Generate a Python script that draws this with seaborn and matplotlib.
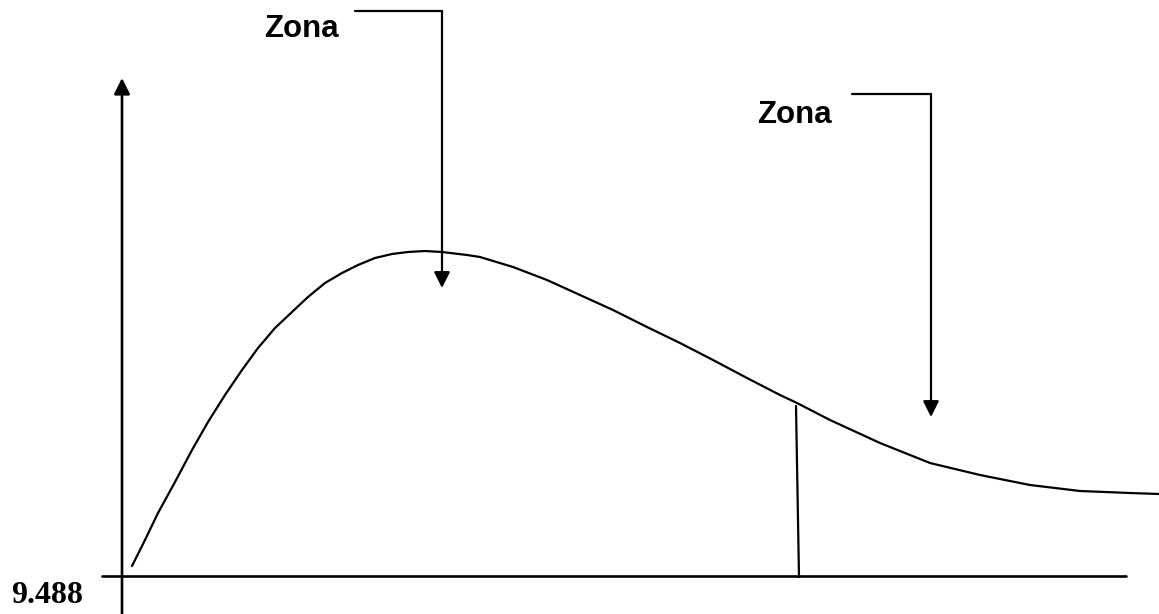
"""
Chi-square sketch: critical value 9.488 with acceptance / rejection zones.
Drawn in a coordinate system where the horizontal axis sits at y=0
and the vertical axis at x=0 (units ~ pixels of the 1159x614 figure).
"""

import matplotlib
matplotlib.use("Agg")
import matplotlib.pyplot as plt
import seaborn as sns
import pandas as pd

# ─── Data ─────────────────────────────────────────────────────

curve_x = [10, 23, 36, 53, 70, 86, 103, 120, 136, 153, 170, 186, 203, 220,
           236, 253, 270, 286, 303, 320, 345, 358, 391, 425, 458, 491, 525,
           558, 591, 625, 658, 675, 708, 758, 808, 858, 908, 958, 1008, 1037]
curve_y = [10, 36, 63, 94, 126, 154, 181, 206, 228, 248, 264, 279, 293, 303,
           311, 318, 322, 324, 325, 324, 321, 319, 309, 296, 281, 266, 249,
           233, 216, 198, 181, 173, 156, 133, 113, 101, 91, 85, 83, 82]

critical_label = "9.488"
critical_x = [674, 677]          # slightly slanted hand-drawn cut line
critical_y = [170, -1]

zone_labels = ["Zona", "Zona"]
zone_text_xy = [(142, 539), (635, 453)]
zone_leader_x = [(233, 320), (730, 809)]
zone_leader_y = [565, 482]
zone_arrow_tip = [288, 159]

x_axis_span = (-20, 1004)
y_axis_span = (-38, 498)

# ─── Figure ───────────────────────────────────────────────────

sns.set_style("white")
fig = plt.figure(figsize=(11.59, 6.14), dpi=100)
ax = fig.add_axes([0, 0, 1, 1])
ax.set_xlim(-122, 1037)
ax.set_ylim(-38, 576)
ax.axis("off")

LW = 1.6

# density-like curve
df = pd.DataFrame({"x": curve_x, "y": curve_y})
sns.lineplot(data=df, x="x", y="y", sort=False, estimator=None,
             color="black", linewidth=LW, ax=ax,
             solid_joinstyle="round", solid_capstyle="round")

# axes
ax.plot(x_axis_span, [0, 0], color="black", linewidth=LW + 0.3)
ax.annotate("", xy=(0, y_axis_span[1]), xytext=(0, y_axis_span[0]),
            arrowprops=dict(arrowstyle="-|>", color="black", lw=LW + 0.3,
                            mutation_scale=24, shrinkA=0, shrinkB=0))

# critical value cut
ax.plot(critical_x, critical_y, color="black", linewidth=LW)
ax.text(-111, -27, critical_label, fontsize=23, fontweight="bold", color="black",
        family=["Liberation Serif", "DejaVu Serif"], ha="left", va="baseline")

# zone labels with leader arrows
for label, (tx, ty), (lx0, lx1), ly, tip in zip(zone_labels, zone_text_xy,
                                                 zone_leader_x, zone_leader_y,
                                                 zone_arrow_tip):
    ax.text(tx, ty, label, fontsize=22.5, fontweight="bold", color="black",
            family=["Liberation Sans", "DejaVu Sans"], ha="left", va="baseline")
    ax.plot([lx0, lx1], [ly, ly], color="black", linewidth=LW)
    ax.annotate("", xy=(lx1, tip), xytext=(lx1, ly),
                arrowprops=dict(arrowstyle="-|>", color="black", lw=LW,
                                mutation_scale=24, shrinkA=0, shrinkB=0))

fig.savefig("out.png", dpi=100, facecolor="white")
plt.close(fig)
